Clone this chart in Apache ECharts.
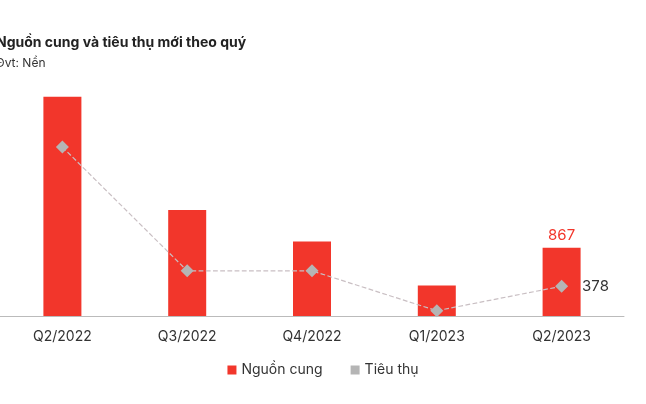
<!DOCTYPE html>
<html><head><meta charset="utf-8">
<script src="https://cdn.jsdelivr.net/npm/echarts@6/dist/echarts.min.js"></script>
<style>html,body{margin:0;padding:0;background:#fff}#c{width:646px;height:404px}</style>
</head><body><div id="c"></div>
<script>
const categories = ["Q2/2022","Q3/2022","Q4/2022","Q1/2023","Q2/2023"];
const supply = [2788, 1347, 947, 387, 867];
const consumption = [2148, 574, 574, 67, 378];
const chart = echarts.init(document.getElementById('c'));
chart.setOption({
  animation:false,
  title:{text:"Nguồn cung và tiêu thụ mới theo quý",subtext:"Đvt: Nền",left:-9,top:31,itemGap:7,
    textStyle:{fontFamily:"Inter",fontSize:14,fontWeight:"bold",color:"#222"},
    subtextStyle:{fontFamily:"Inter",fontSize:12,color:"#333"}},
  legend:{bottom:22,left:'center',itemWidth:9,itemHeight:9,itemGap:28,icon:'rect',
    textStyle:{fontFamily:"Inter",fontSize:14,color:"#333"},
    data:["Nguồn cung","Tiêu thụ"]},
  grid:{left:-6,width:630,top:80,bottom:88},
  xAxis:{type:'category',data:categories,axisTick:{show:false},
    axisLine:{lineStyle:{color:'#bbb'}},
    axisLabel:{fontFamily:"Inter",fontSize:14,color:'#333',margin:14}},
  yAxis:{type:'value',min:0,max:3000,show:false,splitLine:{show:false}},
  series:[
    {name:"Nguồn cung",type:'bar',data:supply,barWidth:38,itemStyle:{color:'#f2362b'},
     label:{show:true,position:'top',fontFamily:"Inter",fontSize:15,color:'#f2362b',
       formatter:p=>p.dataIndex===4?p.value:''}},
    {name:"Tiêu thụ",type:'line',data:consumption,symbol:'diamond',symbolSize:13,
     lineStyle:{type:'dashed',color:'#c9bfc3',width:1.2},itemStyle:{color:'#b5b5b5'},
     label:{show:true,position:'right',distance:14,fontFamily:"Inter",fontSize:15,color:'#333',
       formatter:p=>p.dataIndex===4?p.value:''}}
  ]
});
</script></body></html>
